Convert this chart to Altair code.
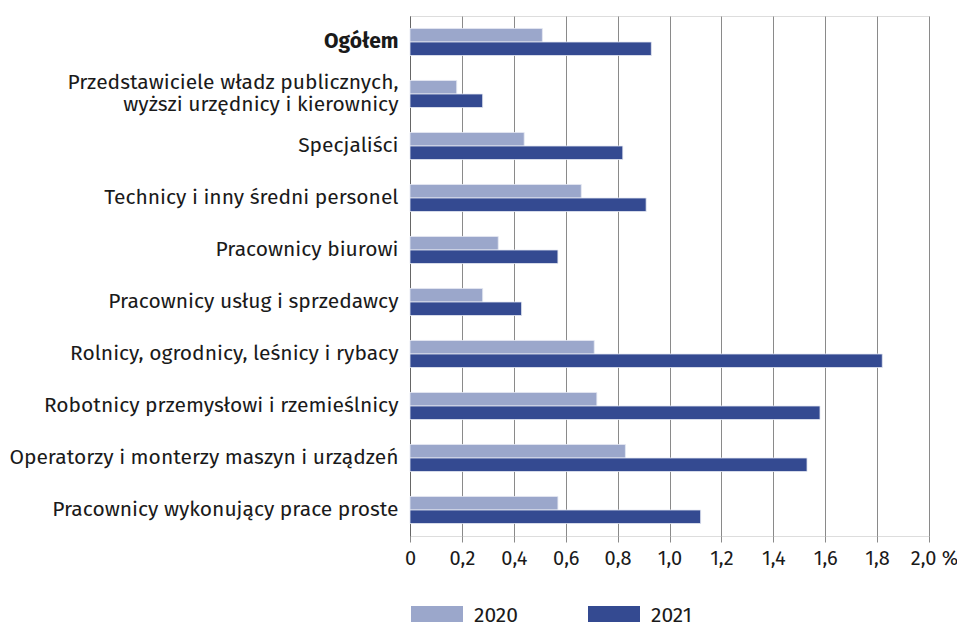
import altair as alt
import pandas as pd

categories = [
    "Ogółem",
    "Przedstawiciele władz publicznych,|wyższi urzędnicy i kierownicy",
    "Specjaliści",
    "Technicy i inny średni personel",
    "Pracownicy biurowi",
    "Pracownicy usług i sprzedawcy",
    "Rolnicy, ogrodnicy, leśnicy i rybacy",
    "Robotnicy przemysłowi i rzemieślnicy",
    "Operatorzy i monterzy maszyn i urządzeń",
    "Pracownicy wykonujący prace proste",
]
values_2020 = [0.51, 0.18, 0.44, 0.66, 0.34, 0.28, 0.71, 0.72, 0.83, 0.57]
values_2021 = [0.93, 0.28, 0.82, 0.91, 0.57, 0.43, 1.82, 1.58, 1.53, 1.12]
years = ["2020", "2021"]
x_ticks = [0, 0.2, 0.4, 0.6, 0.8, 1.0, 1.2, 1.4, 1.6, 1.8, 2.0]

rows = []
for c, a, b in zip(categories, values_2020, values_2021):
    rows.append({"cat": c, "year": years[0], "v": a})
    rows.append({"cat": c, "year": years[1], "v": b})
df = pd.DataFrame(rows)

FONT = "Fira Sans, Noto Sans, sans-serif"

label_expr_x = (
    "datum.value == 0 ? '0' : (datum.value >= 1.99 ? '2,0 %' : "
    "replace(format(datum.value, '.1f'), '.', ','))"
)

chart = (
    alt.Chart(df)
    .mark_bar(stroke="#e4e8f2", strokeWidth=0.8)
    .encode(
        x=alt.X(
            "v:Q",
            scale=alt.Scale(domain=[0, 2.0], nice=False, zero=True),
            axis=alt.Axis(
                values=x_ticks,
                title=None,
                grid=True,
                gridColor="#8a8a8a",
                gridWidth=1,
                domain=False,
                ticks=True,
                tickColor="#8a8a8a",
                tickSize=6,
                labelExpr=label_expr_x,
                labelOverlap=False,
                labelFlush=False,
                labelOffset={
                    "condition": {"test": "datum.value >= 1.99", "value": 5},
                    "value": 0,
                },
                labelFont=FONT,
                labelFontSize=20,
                labelColor="#1a1a1a",
                labelPadding=6,
            ),
        ),
        y=alt.Y(
            "cat:N",
            sort=categories,
            scale=alt.Scale(paddingInner=0.48, paddingOuter=0.24),
            axis=alt.Axis(
                title=None,
                ticks=False,
                domain=True,
                domainColor="#666666",
                domainWidth=1,
                labelExpr="split(datum.label, '|')",
                labelFont=FONT,
                labelFontSize=21,
                labelColor="#1a1a1a",
                labelLineHeight=22,
                labelPadding=12,
                labelLimit=420,
                labelOffset={
                    "condition": {"test": "indexof(datum.value, '|') >= 0", "value": -11},
                    "value": 0,
                },
                labelFontWeight={
                    "condition": {"test": "datum.value == 'Ogółem'", "value": "bold"},
                    "value": "normal",
                },
            ),
        ),
        yOffset=alt.YOffset("year:N", sort=years),
        color=alt.Color(
            "year:N",
            scale=alt.Scale(domain=years, range=["#9ba7cb", "#344a91"]),
            legend=alt.Legend(
                title=None,
                orient="none",
                direction="horizontal",
                legendX=1,
                legendY=574,
                symbolType="M-1,-0.4H1V0.4H-1Z",
                symbolSize=2704,
                symbolStrokeWidth=0,
                labelFont=FONT,
                labelFontSize=21,
                labelColor="#1a1a1a",
                labelOffset=11,
                columnPadding=70,
            ),
        ),
    )
    .properties(
        width=519,
        height=520,
        autosize=alt.AutoSizeParams(type="none"),
        padding={"left": 402, "top": 8, "right": 28, "bottom": 110},
    )
    .configure_view(stroke=None)
    .configure(background="white")
)

chart.save("out.html", embed_options={"renderer": "svg", "actions": False})
